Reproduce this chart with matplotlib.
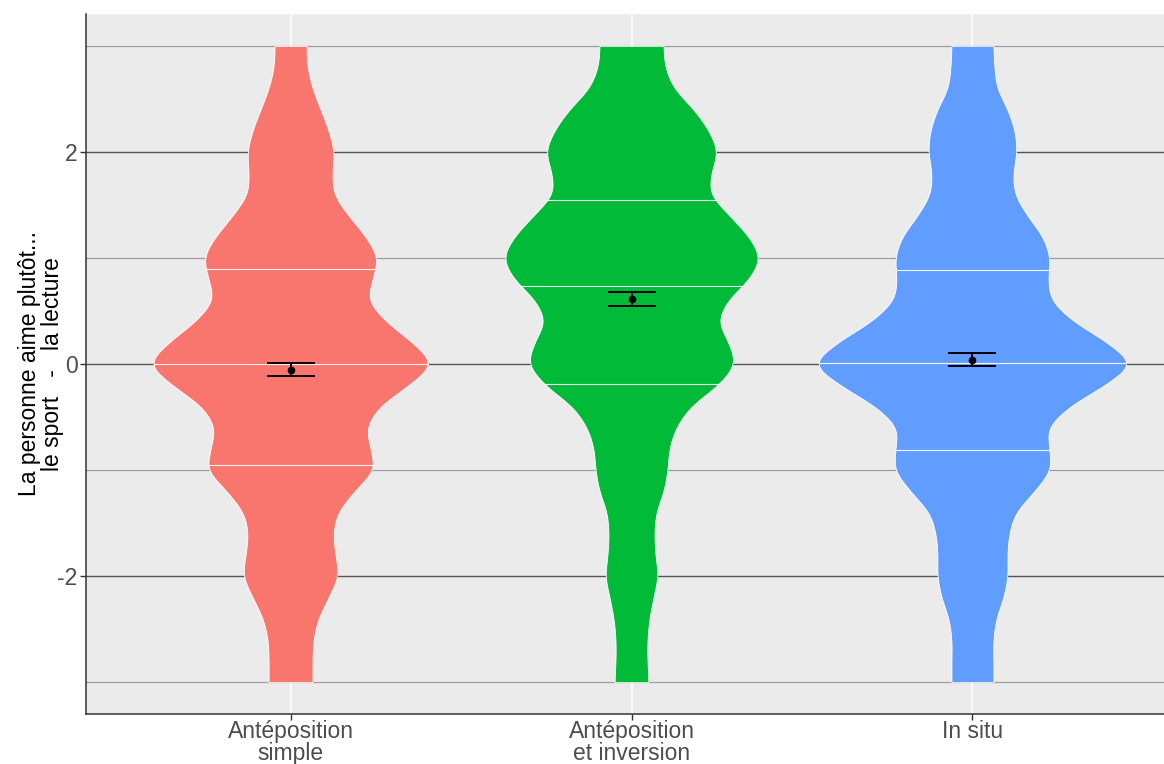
import numpy as np
import matplotlib
matplotlib.use("Agg")
import matplotlib.pyplot as plt

plt.rcParams['font.family'] = ['Liberation Sans', 'DejaVu Sans']

# categories and colours
groups = ["Antéposition\nsimple", "Antéposition\net inversion", "In situ"]
colors = ["#F8766D", "#00BA38", "#619CFF"]

# density profile of each violin, on a common y grid
y_grid = [3.0, 2.8, 2.6, 2.4, 2.2, 2.0, 1.8, 1.6, 1.4, 1.2, 1.0, 0.8, 0.6, 0.4, 0.2, 0.0,
          -0.2, -0.4, -0.6, -0.8, -1.0, -1.2, -1.4, -1.6, -1.8, -2.0, -2.2, -2.4, -2.6, -2.8, -3.0]
dens_simple = [16, 17, 22, 30, 38, 43, 42, 44, 58, 75, 86, 82, 79, 96, 122, 139,
               118, 90, 77, 80, 82, 64, 48, 43, 45, 47, 38, 28, 23, 22, 22]
dens_inversion = [32, 34, 43, 62, 77, 85, 80, 80, 98, 117, 127, 117, 97, 88, 97, 102,
                  86, 60, 45, 38, 36, 32, 25, 23, 24, 26, 22, 18, 16, 16, 17]
dens_insitu = [21, 22, 25, 35, 42, 44, 41, 43, 55, 70, 77, 76, 80, 102, 135, 156,
               132, 98, 77, 77, 77, 62, 44, 37, 35, 35, 31, 24, 21, 21, 21]

# quartiles (25 / 50 / 75)
quart_simple = [-0.95, 0.0, 0.90]
quart_inversion = [-0.186, 0.736, 1.545]
quart_insitu = [-0.81, 0.01, 0.89]

# means and standard errors
means = [-0.053, 0.61, 0.04]
se = [0.063, 0.065, 0.063]

dens_all = [dens_simple, dens_inversion, dens_insitu]
quart_all = [quart_simple, quart_inversion, quart_insitu]

scale = 1.0 / 341.0   # density units -> x data units


def smooth(y, w, n=20):
    # catmull-rom through the read points, then a light blur to drop kinks
    y = np.asarray(y, float)
    w = np.asarray(w, float)
    yp = np.concatenate([[2 * y[0] - y[1]], y, [2 * y[-1] - y[-2]]])
    wp = np.concatenate([[w[0]], w, [w[-1]]])
    ys, ws = [], []
    for i in range(1, len(yp) - 2):
        t = np.linspace(0, 1, n, endpoint=False)
        for arr, out in ((yp, ys), (wp, ws)):
            p0, p1, p2, p3 = arr[i - 1], arr[i], arr[i + 1], arr[i + 2]
            out.append(0.5 * ((2 * p1) + (-p0 + p2) * t
                              + (2 * p0 - 5 * p1 + 4 * p2 - p3) * t ** 2
                              + (-p0 + 3 * p1 - 3 * p2 + p3) * t ** 3))
    ys.append([y[-1]])
    ws.append([w[-1]])
    ys = np.concatenate(ys)
    ws = np.concatenate(ws)
    k = np.exp(-0.5 * (np.arange(-15, 16) / 5.5) ** 2)
    k /= k.sum()
    wpad = np.concatenate([np.full(15, ws[0]), ws, np.full(15, ws[-1])])
    ws = np.convolve(wpad, k, mode="valid")
    return ys, ws


fig = plt.figure(figsize=(11.64, 7.64), dpi=100)
ax = fig.add_axes([86 / 1164, 50 / 764, 1091 / 1164, 700 / 764])
ax.set_facecolor("#EBEBEB")

ax.set_xlim(0.4, 3.6)
ax.set_ylim(-3.3, 3.3)

# grid
for yv in [-3, -1, 1, 3]:
    ax.axhline(yv, color="#9E9E9E", lw=0.9, zorder=0)
for yv in [-2, 0, 2]:
    ax.axhline(yv, color="#555555", lw=1.0, zorder=0)
for xv in [1, 2, 3]:
    ax.axvline(xv, color="white", lw=1.1, zorder=0)

for i in range(3):
    xc = i + 1
    ys, ws = smooth(y_grid, dens_all[i])
    hw = ws * scale
    ax.fill_betweenx(ys, xc - hw, xc + hw, facecolor=colors[i],
                     edgecolor="white", lw=0.6, zorder=2)
    # quartile lines
    order = np.argsort(ys)
    for q in quart_all[i]:
        h = np.interp(q, ys[order], hw[order])
        ax.plot([xc - h, xc + h], [q, q], color="white", lw=0.8, alpha=0.9, zorder=3)
    # mean and error bar
    ax.errorbar(xc, means[i], yerr=se[i], fmt="o", color="black", ms=4.5,
                capsize=17, elinewidth=1.4, capthick=1.4, zorder=4)

ax.set_xticks([1, 2, 3])
ax.set_xticklabels(groups, fontsize=16.5, color="#4D4D4D", linespacing=0.95)
ax.set_yticks([-2, 0, 2])
ax.set_yticklabels(["-2", "0", "2"], fontsize=16.5, color="#4D4D4D")
ax.tick_params(axis="both", length=4, width=1, color="#333333")
ax.tick_params(axis="x", pad=0.5)
ax.tick_params(axis="y", pad=2)

ax.set_ylabel("La personne aime plutôt...\nle sport   -   la lecture",
              fontsize=16.5, color="black", linespacing=1.0, labelpad=-5)

for s in ["top", "right"]:
    ax.spines[s].set_visible(False)
for s in ["left", "bottom"]:
    ax.spines[s].set_color("#333333")
    ax.spines[s].set_linewidth(1.1)

fig.savefig("out.png", dpi=100)
